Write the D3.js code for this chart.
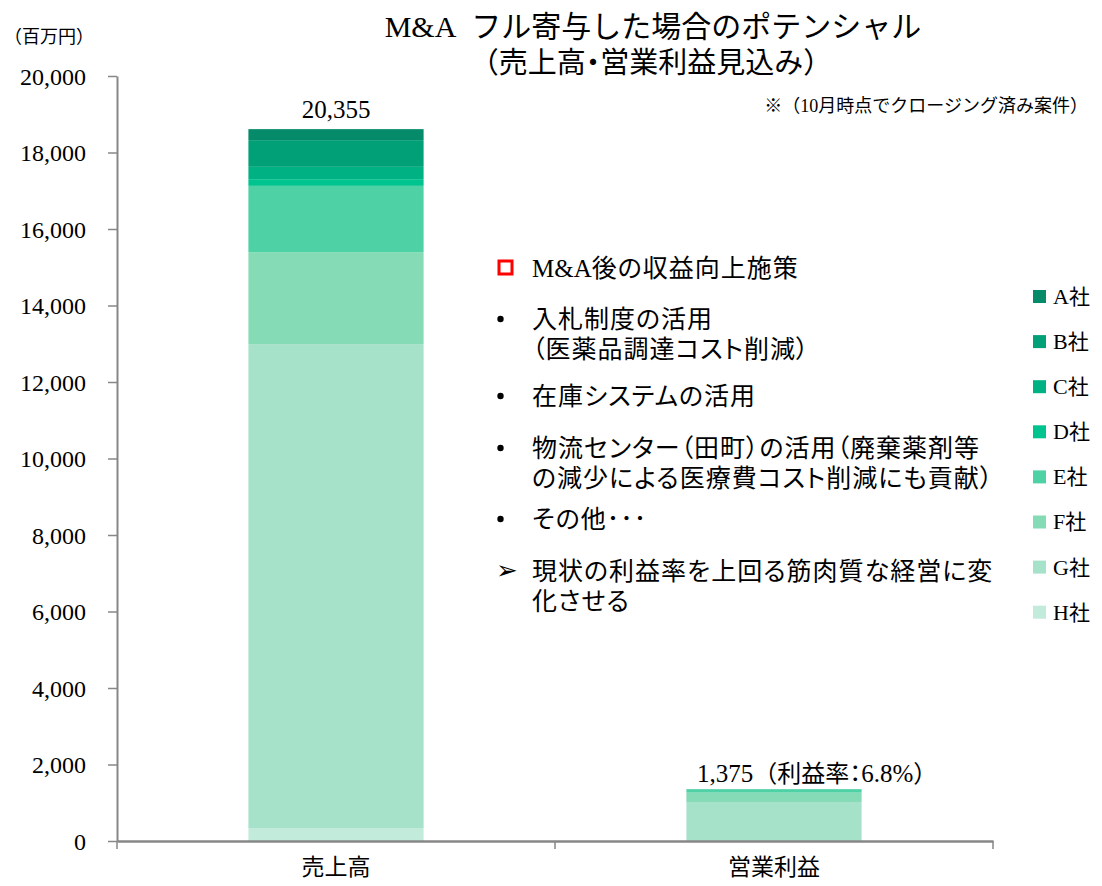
<!DOCTYPE html>
<html>
<head>
<meta charset="utf-8">
<script src="https://cdn.jsdelivr.net/npm/d3@7"></script>
<style>
  body { margin: 0; background: #fff; }
  svg { display: block; }
  .serif { font-family: "Liberation Serif", "Times New Roman", serif; }
  .jp { font-family: "Noto Sans CJK JP", "Noto Sans", sans-serif; }
  .palt { font-feature-settings: "palt"; }
</style>
</head>
<body>
<script>
// chart values
var categories = ['売上高', '営業利益'];
var companies = ['A社', 'B社', 'C社', 'D社', 'E社', 'F社', 'G社', 'H社'];
var salesValues = [288, 698, 322, 175, 1733, 2405, 12650, 340];   // A..H
var profitValues = [0, 0, 0, 0, 90, 245, 1020, 0];                // A..H
var totalLabels = ['20,355', '1,375'];
var marginLabel = '6.8%';
var companyColors = ['#058b69', '#02a077', '#00b183', '#00c48f', '#4dd1a5', '#86dbb7', '#a6e2c9', '#c3ebdc'];
var yTicks = [0, 2000, 4000, 6000, 8000, 10000, 12000, 14000, 16000, 18000, 20000];

var width = 1102, height = 886;
var margin = {top: 76, left: 117, right: 109, bottom: 45};

var svg = d3.select('body').append('svg')
  .attr('width', width)
  .attr('height', height);

var x = d3.scaleBand()
  .domain(categories)
  .range([margin.left, width - margin.right])
  .padding(0);

var y = d3.scaleLinear()
  .domain([0, 20000])
  .range([height - margin.bottom, margin.top]);

var color = d3.scaleOrdinal().domain(companies).range(companyColors);

// table for the stack
var rows = categories.map(function(c, i) {
  var vals = i === 0 ? salesValues : profitValues;
  var r = {category: c};
  companies.forEach(function(k, j) { r[k] = vals[j]; });
  return r;
});

// bottom of stack is H, top is A
var stack = d3.stack().keys(companies.slice().reverse());
var series = stack(rows);

var barW = x.bandwidth() * 0.4;

svg.append('g')
  .selectAll('g')
  .data(series)
  .enter().append('g')
  .attr('fill', function(d) { return color(d.key); })
  .selectAll('rect')
  .data(function(d) { return d; })
  .enter().append('rect')
  .attr('x', function(d) { return x(d.data.category) + (x.bandwidth() - barW) / 2; })
  .attr('y', function(d) { return y(d[1]); })
  .attr('width', barW)
  .attr('height', function(d) { return y(d[0]) - y(d[1]); });

// axes
var yAxis = svg.append('g')
  .attr('transform', 'translate(' + margin.left + ',0)')
  .call(d3.axisLeft(y).tickValues(yTicks).tickFormat(d3.format(',')).tickSize(9).tickSizeOuter(0));
yAxis.select('.domain').attr('stroke', '#878787').attr('stroke-width', 2);
yAxis.selectAll('.tick line').attr('stroke', '#878787').attr('stroke-width', 1.5);
yAxis.selectAll('.tick text')
  .attr('class', 'serif')
  .attr('x', -31)
  .attr('dy', '0.34em')
  .style('font-size', '24px')
  .attr('fill', '#000');

var xAxis = svg.append('g')
  .attr('transform', 'translate(0,' + (height - margin.bottom) + ')')
  .call(d3.axisBottom(x).tickSize(0).tickSizeOuter(0));
xAxis.select('.domain').attr('stroke', '#878787').attr('stroke-width', 2.5);
xAxis.selectAll('.tick text')
  .attr('class', 'jp')
  .attr('y', 34)
  .attr('dy', 0)
  .style('font-size', '23px')
  .attr('fill', '#000');
// category separator ticks
var sepX = [x.range()[0], x(categories[1]), x.range()[1]];
xAxis.selectAll('line.sep')
  .data(sepX)
  .enter().append('line')
  .attr('class', 'sep')
  .attr('x1', function(d) { return d; })
  .attr('x2', function(d) { return d; })
  .attr('y1', 0)
  .attr('y2', 8)
  .attr('stroke', '#878787')
  .attr('stroke-width', 1.5);

// totals above bars
var barTops = rows.map(function(r) {
  return d3.sum(companies, function(k) { return r[k]; });
});
svg.append('text')
  .attr('class', 'serif')
  .attr('x', x(categories[0]) + x.bandwidth() / 2)
  .attr('y', y(barTops[0]) - 11)
  .attr('text-anchor', 'middle')
  .style('font-size', '25px')
  .text(totalLabels[0]);

var t2 = svg.append('text')
  .attr('x', x(categories[1]) + x.bandwidth() / 2 - 77)
  .attr('y', y(barTops[1]) - 7)
  .style('font-size', '25px');
t2.append('tspan').attr('class', 'serif').text(totalLabels[1]);
t2.append('tspan').attr('class', 'jp').style('font-size', '24px').text('（利益率');
t2.append('tspan').attr('class', 'jp palt').style('font-size', '24px').text('：');
t2.append('tspan').attr('class', 'serif').text(marginLabel);
t2.append('tspan').attr('class', 'jp').style('font-size', '24px').text('）');

// title
var title1 = svg.append('text')
  .attr('x', 653).attr('y', 37)
  .attr('text-anchor', 'middle');
title1.append('tspan').attr('class', 'serif').style('font-size', '30px').text('M&A\u00a0\u00a0');
title1.append('tspan').attr('class', 'jp').style('font-size', '30px').text('フル寄与した場合のポテンシャル');
var title2 = svg.append('text')
  .attr('x', 651).attr('y', 73)
  .attr('text-anchor', 'middle')
  .style('font-size', '29px');
title2.append('tspan').attr('class', 'jp').text('（売上高');
title2.append('tspan').attr('class', 'jp palt').text('・');
title2.append('tspan').attr('class', 'jp').text('営業利益見込み）');

// unit label
svg.append('text')
  .attr('class', 'jp')
  .attr('x', 4).attr('y', 43)
  .style('font-size', '18px')
  .text('（百万円）');

// footnote
var note = svg.append('text')
  .attr('x', 1088).attr('y', 112)
  .attr('text-anchor', 'end')
  .style('font-size', '18px');
note.append('tspan').attr('class', 'jp').text('※');
note.append('tspan').attr('class', 'jp').text('（');
note.append('tspan').attr('class', 'serif').text('10');
note.append('tspan').attr('class', 'jp').text('月時点でクロージング済み案件）');

// legend
var legend = svg.append('g')
  .selectAll('g')
  .data(companies)
  .enter().append('g')
  .attr('transform', function(d, i) { return 'translate(1033,' + (296 + i * 45.1) + ')'; });
legend.append('rect')
  .attr('x', 0).attr('y', -6)
  .attr('width', 13).attr('height', 13)
  .attr('fill', function(d) { return color(d); });
legend.each(function(d) {
  var t = d3.select(this).append('text')
    .attr('x', 20).attr('y', 0).attr('dy', '0.36em')
    .style('font-size', '22px');
  t.append('tspan').attr('class', 'serif').text(d.slice(0, 1));
  t.append('tspan').attr('class', 'jp').style('font-size', '21px').text(d.slice(1));
});

// measures text box
var notes = [
  {mark: 'box', lines: [['M&A', '後の収益向上施策']], y: 277},
  {mark: '•', lines: [['', '入札制度の活用'], ['', '（医薬品調達コスト削減）']], y: 328},
  {mark: '•', lines: [['', '在庫システムの活用']], y: 405},
  {mark: '•', lines: [['', '物流センター（田町）の活用（廃棄薬剤等'], ['', 'の減少による医療費コスト削減にも貢献）']], y: 457},
  {mark: '•', lines: [['', 'その他･･･']], y: 528},
  {mark: '➢', lines: [['', '現状の利益率を上回る筋肉質な経営に変'], ['', '化させる']], y: 580}
];
var box = svg.append('g');
notes.forEach(function(n) {
  if (n.mark === 'box') {
    box.append('rect')
      .attr('x', 499).attr('y', n.y - 16)
      .attr('width', 13).attr('height', 13)
      .attr('fill', 'none')
      .attr('stroke', '#ff0000')
      .attr('stroke-width', 3);
  } else if (n.mark === '•') {
    box.append('circle')
      .attr('cx', 500.5).attr('cy', n.y - 9)
      .attr('r', 3.2)
      .attr('fill', '#000');
  } else {
    box.append('text')
      .attr('class', 'jp')
      .attr('x', 496).attr('y', n.y - 1)
      .style('font-size', '26px')
      .text(n.mark);
  }
  n.lines.forEach(function(l, i) {
    var t = box.append('text')
      .attr('x', 532).attr('y', n.y + i * 29.5)
      .style('font-size', '25px')
      .attr('letter-spacing', '1px');
    if (l[0]) t.append('tspan').attr('class', 'serif').attr('letter-spacing', '0').text(l[0]);
    t.append('tspan').attr('class', 'jp palt').text(l[1]);
  });
});
</script>
</body>
</html>
